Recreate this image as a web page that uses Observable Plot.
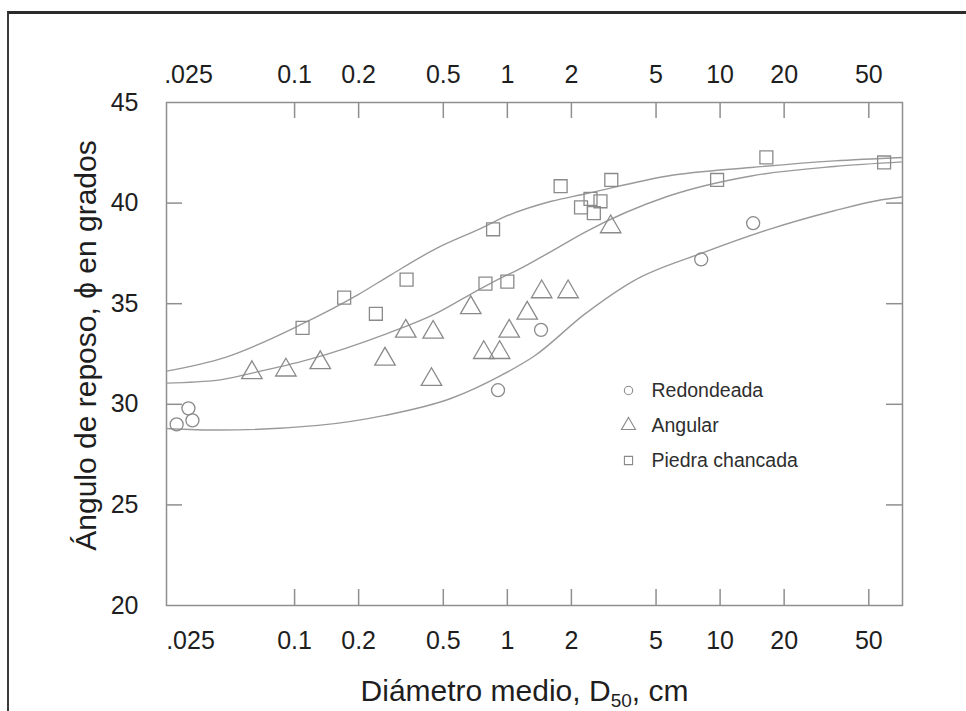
<!DOCTYPE html>
<html><head><meta charset="utf-8">
<script src="https://cdn.jsdelivr.net/npm/d3@7"></script>
<script src="https://cdn.jsdelivr.net/npm/@observablehq/plot@0.6"></script>
<style>
body{margin:0;background:#fff;}
#wrap{position:relative;width:966px;height:711px;overflow:hidden;background:#fff;}
#border{position:absolute;left:7px;top:11px;width:975px;height:720px;border-top:3px solid #2b2b2b;border-left:2px solid #3a3a3a;box-sizing:border-box;pointer-events:none;}
</style></head><body><div id="wrap"><div id="border"></div></div>
<script>
// ---- data ----
const seriesNames = ["Redondeada", "Angular", "Piedra chancada"];

const redX = [0.0279, 0.0317, 0.0331, 0.904, 1.44, 8.15, 14.3];
const redY = [29.0, 29.8, 29.2, 30.7, 33.7, 37.2, 39.0];

const angX = [0.063, 0.091, 0.132, 0.266, 0.333, 0.448, 0.44, 0.673, 0.775, 0.92, 1.02, 1.24, 1.45, 1.93, 3.06];
const angY = [31.57, 31.7, 32.07, 32.24, 33.63, 33.58, 31.23, 34.8, 32.57, 32.57, 33.63, 34.53, 35.59, 35.59, 38.82];

const chanX = [0.109, 0.171, 0.241, 0.336, 0.789, 1.0, 0.857, 1.78, 3.08, 2.22, 2.46, 2.74, 2.55, 9.68, 16.5, 59];
const chanY = [33.8, 35.3, 34.5, 36.2, 36.0, 36.1, 38.7, 40.84, 41.15, 39.79, 40.21, 40.09, 39.5, 41.15, 42.27, 42.02];

// fitted curves as drawn in the figure
const curveRedX = [0.025, 0.044, 0.129, 0.266, 0.546, 0.94, 1.34, 2.31, 3.96, 8.15, 16.7, 34.4, 54.5, 72];
const curveRedY = [28.8, 28.72, 28.95, 29.45, 30.3, 31.45, 32.4, 34.48, 36.16, 37.5, 38.67, 39.62, 40.12, 40.3];

const curveAngX = [0.025, 0.0439, 0.063, 0.116, 0.266, 0.455, 0.677, 0.94, 1.12, 1.61, 2.31, 5.68, 14, 34.4, 72];
const curveAngY = [31.05, 31.2, 31.55, 32.22, 33.48, 34.48, 35.49, 36.3, 36.68, 37.6, 38.55, 40.34, 41.35, 41.82, 42.05];

const curveChanX = [0.025, 0.0469, 0.108, 0.199, 0.285, 0.455, 0.782, 0.94, 1.61, 2.31, 5.68, 14, 34.4, 72];
const curveChanY = [31.65, 32.32, 33.98, 35.45, 36.45, 37.7, 38.83, 39.25, 40.09, 40.45, 41.35, 41.77, 42.1, 42.27];

const xTicks = [0.1, 0.2, 0.5, 1, 2, 5, 10, 20, 50];
const xTickLabels = ["0.1", "0.2", "0.5", "1", "2", "5", "10", "20", "50"];
const xEdgeTick = [0.025];
const xEdgeLabel = [".025"];
const yTicks = [20, 25, 30, 35, 40, 45];
const yInnerTicks = [25, 30, 35, 40];

const xTitle = "Diámetro medio, D50, cm";
const yTitle = "Ángulo de reposo, ϕ en grados";

// ---- build ----
const toPts = (xs, ys) => xs.map((x, i) => ({x, y: ys[i]}));
const red = toPts(redX, redY), ang = toPts(angX, angY), chan = toPts(chanX, chanY);
const cRed = toPts(curveRedX, curveRedY), cAng = toPts(curveAngX, curveAngY), cChan = toPts(curveChanX, curveChanY);
const labelOf = new Map(xTicks.map((t, i) => [t, xTickLabels[i]]));
const edgeLabelOf = new Map(xEdgeTick.map((t, i) => [t, xEdgeLabel[i]]));

const W = 966, H = 711, mL = 166, mR = 64, mT = 102, mB = 106;
const fw = W - mL - mR, fh = H - mT - mB, tick = 16;
const axisFont = "'Liberation Sans', Arial, Helvetica, sans-serif";
const textCol = "#1e1e1e";
const markStroke = "#8a8a8a", lineStroke = "#9a9a9a", frameStroke = "#8f8f8f";
const tickFs = 25;

const legendMarks = seriesNames.flatMap((name, i) => {
  const sym = ["circle", "triangle", "square"][i];
  const r = [4.2, 5.2, 4.6][i];
  return [
    Plot.dot([name], {frameAnchor: "top-left", dx: 628 - mL, dy: 390 - mT + i * 35, symbol: sym, r, stroke: markStroke, fill: "none", strokeWidth: 1.1}),
    Plot.text([name], {frameAnchor: "top-left", dx: 651 - mL, dy: 390 - mT + i * 35, text: d => d, textAnchor: "start", lineAnchor: "middle", fontSize: 19.5, fill: "#2e2e2e"})
  ];
});

const chart = Plot.plot({
  width: W, height: H,
  marginLeft: mL, marginRight: mR, marginTop: mT, marginBottom: mB,
  style: {fontFamily: axisFont, fontSize: "23px", color: textCol, background: "transparent", overflow: "visible"},
  x: {type: "log", domain: [0.025, 72], axis: null},
  y: {domain: [20, 45], axis: null},
  marks: [
    Plot.frame({stroke: frameStroke, strokeWidth: 1.5}),
    // inward ticks
    Plot.ruleX(xTicks, {x: d => d, insetBottom: fh - tick, stroke: frameStroke, strokeWidth: 1.5}),
    Plot.ruleX(xTicks, {x: d => d, insetTop: fh - tick, stroke: frameStroke, strokeWidth: 1.5}),
    Plot.ruleY(yInnerTicks, {y: d => d, insetRight: fw - tick, stroke: frameStroke, strokeWidth: 1.5}),
    Plot.ruleY(yInnerTicks, {y: d => d, insetLeft: fw - tick, stroke: frameStroke, strokeWidth: 1.5}),
    // tick labels (bottom and top rows)
    Plot.text(xTicks, {x: d => d, frameAnchor: "bottom", dy: 35, text: d => labelOf.get(d), lineAnchor: "middle", fontSize: tickFs, fill: textCol}),
    Plot.text(xTicks, {x: d => d, frameAnchor: "top", dy: -28, text: d => labelOf.get(d), lineAnchor: "middle", fontSize: tickFs, fill: textCol}),
    Plot.text(xEdgeTick, {x: d => d, frameAnchor: "bottom", dx: 24, dy: 35, text: d => edgeLabelOf.get(d), lineAnchor: "middle", fontSize: tickFs, fill: textCol}),
    Plot.text(xEdgeTick, {x: d => d, frameAnchor: "top", dx: 22, dy: -28, text: d => edgeLabelOf.get(d), lineAnchor: "middle", fontSize: tickFs, fill: textCol}),
    Plot.text(yTicks, {y: d => d, frameAnchor: "left", dx: -28, text: d => String(d), textAnchor: "end", lineAnchor: "middle", fontSize: tickFs, fill: textCol}),
    // curves
    Plot.line(cChan, {x: "x", y: "y", curve: "monotone-x", stroke: lineStroke, strokeWidth: 1.4}),
    Plot.line(cAng, {x: "x", y: "y", curve: "monotone-x", stroke: lineStroke, strokeWidth: 1.4}),
    Plot.line(cRed, {x: "x", y: "y", curve: "monotone-x", stroke: lineStroke, strokeWidth: 1.4}),
    // data points
    Plot.dot(red, {x: "x", y: "y", symbol: "circle", r: 6.5, stroke: markStroke, fill: "none", strokeWidth: 1.3}),
    Plot.dot(ang, {x: "x", y: "y", symbol: "triangle", r: 7.6, stroke: markStroke, fill: "none", strokeWidth: 1.3}),
    Plot.dot(chan, {x: "x", y: "y", symbol: "square", r: 7.3, stroke: markStroke, fill: "none", strokeWidth: 1.3}),
    ...legendMarks,
    // axis titles
    Plot.text([xTitle], {frameAnchor: "bottom", dx: 524 - (mL + fw / 2), dy: 86, text: d => d, textAnchor: "middle", lineAnchor: "middle", fontSize: 30, fill: textCol}),
    Plot.text([yTitle], {frameAnchor: "left", dx: 86 - mL, dy: 345 - (mT + fh / 2), rotate: -90, text: d => d, textAnchor: "middle", lineAnchor: "middle", fontSize: 30, fill: textCol})
  ]
});

// subscript "50" in the x title
d3.select(chart).selectAll("text").filter(function() { return this.textContent === xTitle; }).each(function() {
  const t = d3.select(this);
  t.text(null);
  t.append("tspan").text("Diámetro medio, D");
  t.append("tspan").attr("font-size", "19").attr("dy", "6").text("50");
  t.append("tspan").attr("dy", "-6").text(", cm");
});

document.getElementById("wrap").prepend(chart);
</script>
</body></html>
